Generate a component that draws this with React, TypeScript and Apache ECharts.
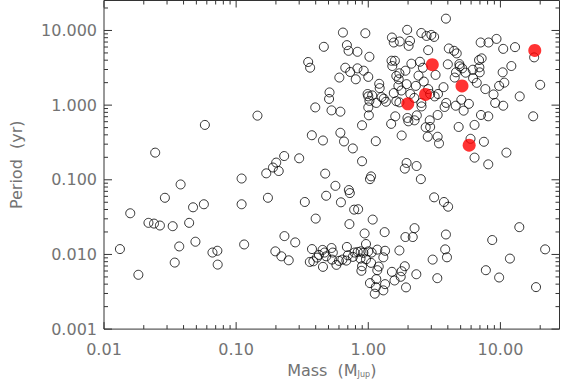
import React, { useEffect, useRef } from "react";
import * as echarts from "echarts";

// Planet masses (M_Jup) and orbital periods (yr) of the open-circle sample
const massOpen = [
  0.0132, 0.0158, 0.0182, 0.0217, 0.0239, 0.0265, 0.0289, 0.0244, 0.0331, 0.0343,
  0.0371, 0.038, 0.0441, 0.0472, 0.0492, 0.057, 0.058, 0.0662, 0.0721, 0.0725,
  0.11, 0.11, 0.115, 0.145, 0.169, 0.174, 0.19, 0.201, 0.21, 0.231,
  0.3, 0.198, 0.22, 0.232, 0.25, 0.28, 0.331, 0.4, 0.48, 0.564,
  0.621, 0.713, 0.725, 0.72, 0.782, 0.838, 1.03, 1.08, 0.938, 0.961,
  1.33, 1.91, 2.17, 2.24, 2.5, 3.15, 3.74, 4.02, 3.87, 3.82,
  3.94, 3.07, 3.33, 2.31, 1.93, 1.89, 1.79, 1.76, 1.58, 1.51,
  1.72, 1.34, 1.3, 1.34, 1.3, 1.12, 1.14, 1.03, 1.15, 1.2,
  1.17, 1.05, 0.897, 0.887, 7.76, 9.78, 8.67, 11.8, 13.9, 18.6,
  21.8, 0.375, 0.361, 0.384, 0.409, 0.423, 0.451, 0.467, 0.48, 0.454,
  0.527, 0.539, 0.532, 0.574, 0.6, 0.637, 0.682, 0.689, 0.701, 0.764,
  0.787, 0.832, 0.877, 0.918, 0.961, 1.0, 1.06, 1.17, 0.873,
  3.87, 0.643, 0.95, 1.97, 1.51, 1.56, 1.73, 2.07, 2.02, 2.52,
  2.76, 3.0, 3.15, 0.461, 0.689, 0.709, 0.828, 1.02, 2.84, 4.07,
  4.46, 4.67, 7.09, 8.13, 9.34, 10.5, 12.9, 18.0, 0.351, 0.363,
  0.67, 0.73, 0.828, 0.923, 0.804, 0.604, 1.0, 1.5, 1.59, 1.52,
  2.12, 2.46, 2.59, 4.0, 4.89, 4.92, 5.14, 5.45, 4.61, 4.51,
  6.18, 6.93, 7.21, 6.89, 6.97, 6.21, 10.4, 12.1, 1.72, 1.91,
  1.63, 1.7, 2.4, 2.63, 3.23, 1.69, 1.95, 2.29, 1.56, 1.78,
  2.08, 2.84, 2.94, 3.71, 6.62, 7.69, 9.78, 10.7, 8.87, 14.0,
  20.0, 0.509, 0.505, 0.397, 0.527, 0.615, 0.988, 1.0, 1.21, 1.22,
  1.07, 1.26, 1.31, 1.15, 1.0, 1.01, 1.36, 1.63, 1.72, 2.23,
  2.52, 2.53, 3.18, 3.37, 3.89, 3.78, 4.59, 5.06, 5.77, 5.27,
  7.13, 8.09, 10.5, 9.13, 17.7, 1.6, 1.98, 2.01, 2.24, 2.33,
  2.92, 3.35, 1.49, 0.897, 2.72, 2.94, 2.82, 1.79, 1.14, 0.615,
  0.655, 0.764, 0.454, 0.374, 4.83, 6.37, 3.35, 3.43, 5.94, 7.5,
  6.37, 8.09, 11.1, 0.897, 0.472, 1.05, 1.95, 1.89, 2.32, 1.02,
];
const periodOpen = [
  0.0118, 0.0356, 0.00534, 0.0265, 0.0259, 0.0244, 0.0574, 0.231, 0.0239, 0.00778,
  0.0128, 0.0866, 0.0265, 0.0428, 0.0148, 0.047, 0.543, 0.0106, 0.0112, 0.00731,
  0.104, 0.047, 0.0136, 0.723, 0.122, 0.0574, 0.146, 0.17, 0.131, 0.208,
  0.194, 0.011, 0.00944, 0.0176, 0.00835, 0.0145, 0.0504, 0.0302, 0.0611, 0.083,
  0.0499, 0.0728, 0.0664, 0.0255, 0.0398, 0.0403, 0.102, 0.0293, 0.0191, 0.0138,
  0.0199, 0.0171, 0.0171, 0.0225, 0.102, 0.0582, 0.0504, 0.0436, 0.0185, 0.0117,
  0.00915, 0.00853, 0.00481, 0.00543, 0.00362, 0.00695, 0.00596, 0.00502, 0.00448, 0.00585,
  0.0113, 0.0112, 0.00915, 0.004, 0.0033, 0.00298, 0.00365, 0.00413, 0.00467, 0.00688,
  0.00615, 0.00771, 0.00695, 0.00604, 0.00615, 0.00491, 0.0156, 0.0088, 0.0232, 0.00365,
  0.0117, 0.0118, 0.00794, 0.0081, 0.00907, 0.00985, 0.0115, 0.0106, 0.00944, 0.00682,
  0.0122, 0.0106, 0.00853, 0.00725, 0.0082, 0.00853, 0.00827, 0.0126, 0.00973, 0.00927,
  0.0106, 0.0108, 0.011, 0.0105, 0.0086, 0.011, 0.0106, 0.0116, 0.0088,
  14.4, 9.38, 9.18, 10.2, 8.05, 6.9, 7.12, 7.25, 6.22, 9.26,
  8.45, 8.71, 8.2, 6.04, 6.36, 5.34, 5.18, 4.44, 5.45, 5.74,
  5.34, 4.93, 6.9, 6.9, 7.71, 5.67, 5.98, 4.36, 3.78, 3.17,
  3.17, 2.78, 3.11, 2.89, 2.22, 2.34, 2.39, 3.93, 3.93, 3.34,
  3.59, 3.81, 3.17, 3.52, 3.55, 3.31, 3.11, 2.72, 2.75, 2.34,
  2.98, 3.21, 4.23, 4.01, 2.75, 2.29, 2.75, 3.34, 2.67, 2.89,
  2.46, 2.22, 2.48, 2.07, 2.54, 1.81, 1.91, 1.81, 1.45, 1.57,
  1.41, 1.64, 1.41, 1.74, 1.99, 1.64, 1.81, 2.0, 1.39, 1.31,
  1.87, 1.48, 1.21, 0.932, 0.851, 0.817, 1.41, 1.31, 1.93, 1.69,
  1.35, 1.28, 1.22, 1.07, 0.932, 0.73, 1.11, 1.13, 1.09, 1.25,
  1.07, 0.961, 1.31, 1.41, 1.07, 0.944, 0.982, 1.18, 1.04, 0.843,
  0.738, 0.708, 0.982, 1.07, 0.708, 0.708, 0.673, 0.607, 0.626, 0.73,
  0.626, 0.738, 0.561, 0.537, 0.505, 0.51, 0.377, 0.392, 0.329, 0.426,
  0.326, 0.263, 0.336, 0.395, 0.51, 0.543, 0.377, 0.307, 0.354, 0.323,
  0.198, 0.161, 0.231, 0.177, 0.121, 0.111, 0.168, 0.141, 0.153, 1.14,
];

// Highlighted (red) planets
const massRed = [18.2, 3.05, 5.12, 2.71, 1.99, 5.8];
const periodRed = [5.4, 3.48, 1.81, 1.39, 1.04, 0.291];

// Axis ranges and ticks
const xRange = [0.01, 28.0];
const yRange = [0.001, 25.2];
const xMajorTicks = [0.01, 0.1, 1, 10];
const xMinorTicks = [
  0.02, 0.03, 0.04, 0.05, 0.06, 0.07, 0.08, 0.09,
  0.2, 0.3, 0.4, 0.5, 0.6, 0.7, 0.8, 0.9,
  2, 3, 4, 5, 6, 7, 8, 9, 20,
];
const yMajorTicks = [0.001, 0.01, 0.1, 1, 10];
const yMinorTicks = [
  0.002, 0.003, 0.004, 0.005, 0.006, 0.007, 0.008, 0.009,
  0.02, 0.03, 0.04, 0.05, 0.06, 0.07, 0.08, 0.09,
  0.2, 0.3, 0.4, 0.5, 0.6, 0.7, 0.8, 0.9,
  2, 3, 4, 5, 6, 7, 8, 9, 20,
];
const xDecimals = 2;
const yDecimals = 3;

const isPow10 = (v: number) => {
  const l = Math.log10(v);
  return Math.abs(l - Math.round(l)) < 1e-6;
};

const AXIS_COLOR = "#333333";
const TEXT_COLOR = "#737373";
const FONT = "DejaVu Sans";

export default function App() {
  const ref = useRef<HTMLDivElement>(null);

  useEffect(() => {
    document.body.style.margin = "0";
    if (!ref.current) return;
    const chart = echarts.init(ref.current, null, { renderer: "svg" });

    const tickData: number[][] = [];
    xMajorTicks.forEach((v) => tickData.push([v, 1, 0, 1]));
    xMinorTicks.forEach((v) => tickData.push([v, 1, 0, 0]));
    yMajorTicks.forEach((v) => tickData.push([1, v, 1, 1]));
    yMinorTicks.forEach((v) => tickData.push([1, v, 1, 0]));

    const option: any = {
      animation: false,
      backgroundColor: "#ffffff",
      grid: {
        left: 97.5,
        top: 0.5,
        width: 462,
        height: 331,
        show: true,
        borderColor: AXIS_COLOR,
        borderWidth: 1,
        backgroundColor: "transparent",
      },
      xAxis: {
        type: "log",
        logBase: 10,
        min: xRange[0],
        max: xRange[1],
        axisLine: { show: false },
        axisTick: { show: false },
        splitLine: { show: false },
        axisLabel: {
          margin: 12,
          color: TEXT_COLOR,
          fontFamily: FONT,
          fontSize: 16,
          formatter: (v: number) => (isPow10(v) ? v.toFixed(xDecimals) : ""),
        },
        name: "Mass  (M{sub|Jup})",
        nameLocation: "middle",
        nameGap: 31,
        nameTextStyle: {
          color: TEXT_COLOR,
          fontFamily: FONT,
          fontSize: 16,
          rich: {
            sub: {
              color: TEXT_COLOR,
              fontFamily: FONT,
              fontSize: 8,
              verticalAlign: "bottom",
              padding: [8, 0, 0, 0],
            },
          },
        },
      },
      yAxis: {
        type: "log",
        logBase: 10,
        min: yRange[0],
        max: yRange[1],
        axisLine: { show: false },
        axisTick: { show: false },
        splitLine: { show: false },
        axisLabel: {
          margin: 7,
          color: TEXT_COLOR,
          fontFamily: FONT,
          fontSize: 16,
          formatter: (v: number) => (isPow10(v) ? v.toFixed(yDecimals) : ""),
        },
        name: "Period  (yr)",
        nameLocation: "middle",
        nameGap: 80,
        nameTextStyle: {
          color: TEXT_COLOR,
          fontFamily: FONT,
          fontSize: 16,
        },
      },
      series: [
        {
          type: "custom",
          silent: true,
          z: 1,
          data: tickData,
          renderItem: (params: any, api: any) => {
            const cs = params.coordSys;
            const kind = api.value(2);
            const major = api.value(3);
            const style = { stroke: AXIS_COLOR, lineWidth: 1 };
            if (kind === 0) {
              const len = major ? 7 : 4;
              const x = api.coord([api.value(0), 1])[0];
              const yb = cs.y + cs.height;
              return {
                type: "group",
                children: [
                  { type: "line", shape: { x1: x, y1: yb, x2: x, y2: yb - len }, style },
                  { type: "line", shape: { x1: x, y1: cs.y, x2: x, y2: cs.y + len }, style },
                ],
              };
            }
            const len = major ? 8 : 4;
            const y = api.coord([1, api.value(1)])[1];
            const xr = cs.x + cs.width;
            return {
              type: "group",
              children: [
                { type: "line", shape: { x1: cs.x, y1: y, x2: cs.x + len, y2: y }, style },
                { type: "line", shape: { x1: xr, y1: y, x2: xr - len, y2: y }, style },
              ],
            };
          },
        },
        {
          type: "scatter",
          z: 2,
          symbol: "circle",
          symbolSize: 9,
          itemStyle: { color: "transparent", borderColor: "#000000", borderWidth: 1 },
          data: massOpen.map((m, i) => [m, periodOpen[i]]),
        },
        {
          type: "scatter",
          z: 3,
          symbol: "circle",
          symbolSize: 13,
          itemStyle: { color: "#ff0000" },
          data: massRed.map((m, i) => [m, periodRed[i]]),
        },
      ],
    };

    chart.setOption(option);
    return () => chart.dispose();
  }, []);

  return <div ref={ref} style={{ width: 564, height: 383 }} />;
}
